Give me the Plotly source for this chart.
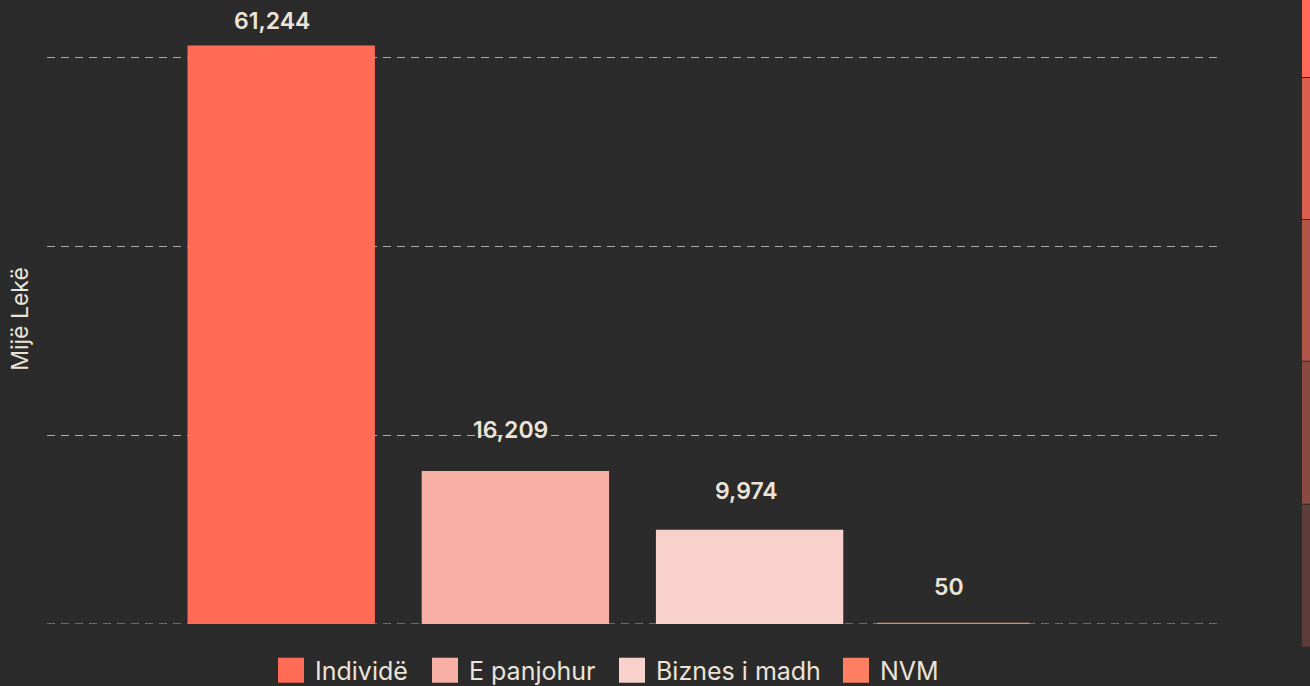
import plotly.graph_objects as go

categories = ["Individë", "E panjohur", "Biznes i madh", "NVM"]
values = [61244, 16209, 9974, 50]
colors = ["#ff6b57", "#f7afa6", "#f9d1cc", "#ff7f62"]
label_texts = ["61,244", "16,209", "9,974", "50"]
label_yshift = [8, 25, 23, 21]
label_xshift = [-9, -5, -3, -4]
y_title = "Mijë Lekë"

BG = "#2b2b2b"
TXT = "#ece4d8"
GRID = "#b3aea8"
FONT = "Inter"

# plot area in pixels
L, R, T, B = 47, 1218, 10, 624.25
PW, PH = R - L, B - T


def px_x(p):
    return (p - L) / PW


def px_y(p):
    return (B - p) / PH


fig = go.Figure()
for i, (c, v, col) in enumerate(zip(categories, values, colors)):
    kw = dict(width=0.8)
    if c == "NVM":
        kw = dict(width=0.645, offset=-0.453)
    fig.add_trace(go.Bar(
        x=[i], y=[v], name=c, showlegend=False,
        marker=dict(color=col, line=dict(width=1.5 if c == "NVM" else 0, color=col)),
        hoverinfo="skip", **kw))
    fig.add_annotation(x=i if c != "NVM" else i - 0.13, y=v, text=label_texts[i], showarrow=False,
                       yanchor="bottom", yshift=label_yshift[i], xshift=label_xshift[i],
                       font=dict(family=FONT, size=23, color=TXT, weight=600))

# dashed baseline at zero
fig.add_shape(type="line", xref="paper", yref="y", x0=0, x1=1, y0=0, y1=0,
              line=dict(color=GRID, width=1, dash="8px,6px"), layer="below")

# manual legend (large squares)
legend_sq_x = [278, 432, 619, 843]
for c, col, sx in zip(categories, colors, legend_sq_x):
    fig.add_shape(type="rect", xref="paper", yref="paper",
                  x0=px_x(sx), x1=px_x(sx + 26), y0=px_y(683), y1=px_y(658),
                  fillcolor=col, line=dict(width=0))
    fig.add_annotation(xref="paper", yref="paper", x=px_x(sx + 35), y=px_y(671),
                       xanchor="left", yanchor="middle", text=c, showarrow=False,
                       font=dict(family=FONT, size=25, color=TXT))

# y axis title
fig.add_annotation(xref="paper", yref="paper", x=px_x(20), y=px_y(319), text=y_title,
                   textangle=-90, showarrow=False, xanchor="center", yanchor="middle",
                   font=dict(family=FONT, size=23, color=TXT))

# decorative right-edge stripe
stripe = [(0, 77, "#ff6b57"), (78, 219, "#d9604f"), (220, 361, "#b25548"),
          (362, 504, "#8a4a43"), (505, 647, "#5c3d3a")]
for p0, p1, col in stripe:
    fig.add_shape(type="rect", xref="paper", yref="paper",
                  x0=px_x(1302), x1=px_x(1311), y0=px_y(p1), y1=px_y(p0),
                  fillcolor=col, line=dict(width=0), layer="below")

fig.update_layout(
    width=1310, height=686,
    paper_bgcolor=BG, plot_bgcolor=BG,
    margin=dict(l=L, r=1310 - R, t=T, b=686 - B),
    barmode="overlay",
    showlegend=False,
    xaxis=dict(range=[-1, 4], showticklabels=False, showgrid=False, zeroline=False,
               ticks="", fixedrange=True),
    yaxis=dict(range=[0, 65000], tickvals=[0, 20000, 40000, 60000], showticklabels=False,
               showgrid=True, gridcolor=GRID, griddash="8px,6px", gridwidth=1,
               zeroline=False, ticks=""),
    font=dict(family=FONT, color=TXT),
)

fig.write_html("out.html", config={"displayModeBar": False},
               post_script="document.body.style.margin='0';document.body.style.background='#2b2b2b';document.body.style.overflow='hidden';")
